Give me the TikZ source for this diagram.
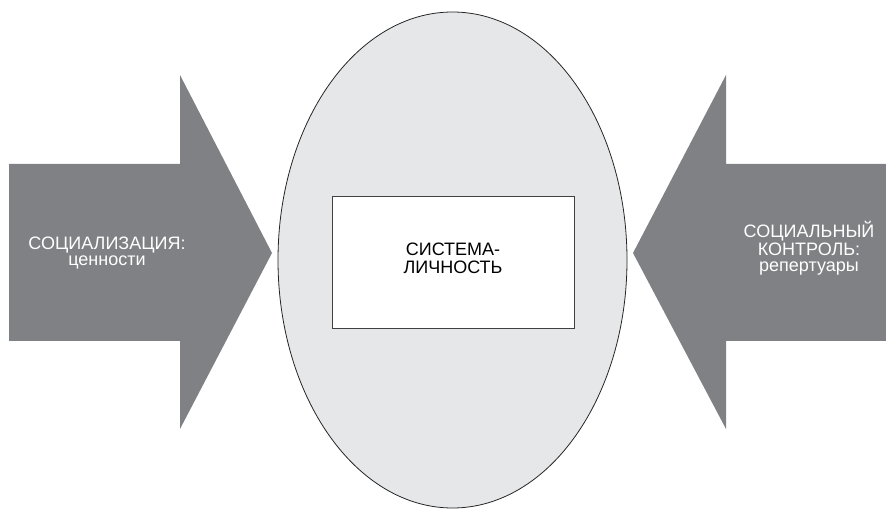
\documentclass[tikz,border=0pt]{standalone}
\usepackage{fontspec}
\setmainfont{Liberation Sans}
\usepackage{tikz}
\definecolor{arrowgray}{HTML}{808184}
\definecolor{ovalgray}{HTML}{E6E7E8}
\newcommand{\lines}[1]{\begin{tabular}{@{}c@{}}#1\end{tabular}}

\begin{document}
\begin{tikzpicture}[x=1pt,y=-1pt,
    lbl/.style={inner sep=0pt,font=\fontsize{18}{19.5}\selectfont},
    onarrow/.style={lbl,text=white}]
      \useasboundingbox (0,0) rectangle (886,510);
      \pgfmathsetmacro{\st}{164}
      \pgfmathsetmacro{\sb}{341}
      \pgfmathsetmacro{\ht}{75}
      \pgfmathsetmacro{\hb}{429}
      \pgfmathsetmacro{\tipy}{253}
      % Oval
      \draw[fill=ovalgray,draw=black!85,line width=0.8pt] (452.5,260) ellipse [x radius=174.5, y radius=248];
      % Left arrow: socialisation
      \fill[arrowgray] (9,\st) -- (180,\st) -- (180,\ht) -- (272,\tipy) -- (180,\hb) -- (180,\sb) -- (9,\sb) -- cycle;
      % Right arrow: social control
      \fill[arrowgray] (886,\st) -- (726,\st) -- (726,\ht) -- (633,\tipy) -- (726,\hb) -- (726,\sb) -- (886,\sb) -- cycle;
      % Personality system
      \node[draw=black!75,fill=white,line width=0.8pt,minimum width=242pt,minimum height=132pt] (sys) at (453,262) {};
      \node[lbl,font=\fontsize{18}{18}\selectfont] (systxt) at (453,272) {\lines{СИСТЕМА-\\ЛИЧНОСТЬ}};
      \node[onarrow] (soc) at (107,265) {\lines{СОЦИАЛИЗАЦИЯ:\\ценности}};
      \node[onarrow] (ctrl) at (809,265) {\lines{СОЦИАЛЬНЫЙ\\КОНТРОЛЬ:\\репертуары}};
    \end{tikzpicture}
\end{document}
